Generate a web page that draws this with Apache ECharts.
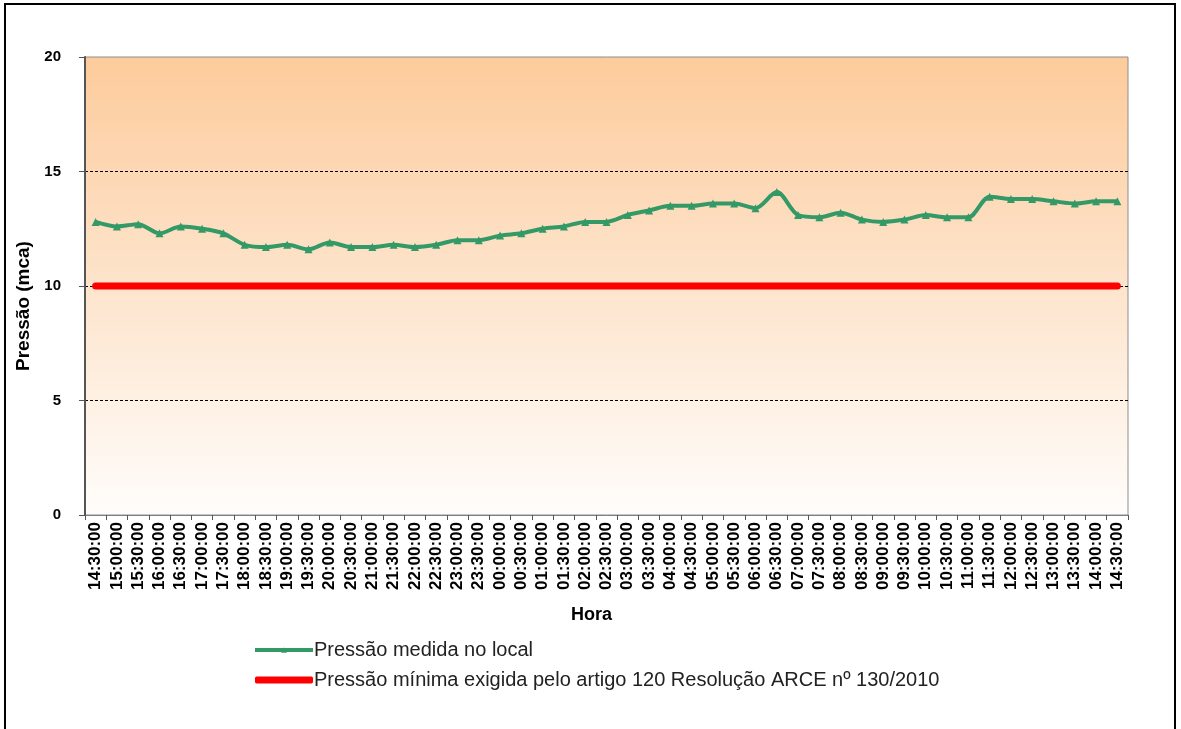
<!DOCTYPE html>
<html>
<head>
<meta charset="utf-8">
<script src="https://cdn.jsdelivr.net/npm/echarts@6/dist/echarts.min.js"></script>
<style>
  html, body { margin: 0; padding: 0; background: #fff; }
  #chart { width: 1181px; height: 729px; }
</style>
</head>
<body>
<div id="chart"></div>
<script>
const horas = [
  '14:30:00', '15:00:00', '15:30:00', '16:00:00', '16:30:00', '17:00:00', '17:30:00',
  '18:00:00', '18:30:00', '19:00:00', '19:30:00', '20:00:00', '20:30:00', '21:00:00',
  '21:30:00', '22:00:00', '22:30:00', '23:00:00', '23:30:00', '00:00:00', '00:30:00',
  '01:00:00', '01:30:00', '02:00:00', '02:30:00', '03:00:00', '03:30:00', '04:00:00',
  '04:30:00', '05:00:00', '05:30:00', '06:00:00', '06:30:00', '07:00:00', '07:30:00',
  '08:00:00', '08:30:00', '09:00:00', '09:30:00', '10:00:00', '10:30:00', '11:00:00',
  '11:30:00', '12:00:00', '12:30:00', '13:00:00', '13:30:00', '14:00:00', '14:30:00'
];

// pressure read at each half hour (mca)
const pressaoMedida = [
  12.8, 12.6, 12.7, 12.3, 12.6, 12.5, 12.3,
  11.8, 11.7, 11.8, 11.6, 11.9, 11.7, 11.7,
  11.8, 11.7, 11.8, 12.0, 12.0, 12.2, 12.3,
  12.5, 12.6, 12.8, 12.8, 13.1, 13.3, 13.5,
  13.5, 13.6, 13.6, 13.4, 14.1, 13.1, 13.0,
  13.2, 12.9, 12.8, 12.9, 13.1, 13.0, 13.0,
  13.9, 13.8, 13.8, 13.7, 13.6, 13.7, 13.7
];

// minimum pressure required (ARCE resolution)
const pressaoMinima = horas.map(() => 10);

const yTicks = { min: 0, max: 20, interval: 5 };

const nomeMedida = 'Pressão medida no local';
const nomeMinima = 'Pressão mínima exigida pelo artigo 120 Resolução ARCE nº 130/2010';

const chart = echarts.init(document.getElementById('chart'));

chart.setOption({
  animation: false,
  textStyle: { fontFamily: 'Arial, "Liberation Sans", sans-serif' },
  graphic: [{
    type: 'rect',
    shape: { x: 5, y: 4, width: 1170, height: 780 },
    style: { fill: 'none', stroke: '#000', lineWidth: 2 },
    silent: true
  }],
  grid: {
    left: 85, right: 53, top: 57, bottom: 214,
    show: true,
    borderColor: '#8c8c8c',
    borderWidth: 1,
    backgroundColor: new echarts.graphic.LinearGradient(0, 0, 0, 1, [
      { offset: 0, color: '#fdcb9b' },
      { offset: 0.5, color: '#fde4cc' },
      { offset: 1, color: '#fffdfb' }
    ])
  },
  legend: {
    orient: 'vertical',
    left: 248,
    top: 635,
    itemWidth: 58,
    itemHeight: 7,
    itemGap: 10,
    textStyle: { fontSize: 20, color: '#222', padding: [0, 0, 0, -4] },
    data: [
      { name: nomeMedida, lineStyle: { width: 4 } },
      { name: nomeMinima, icon: 'roundRect' }
    ]
  },
  xAxis: {
    type: 'category',
    data: horas,
    boundaryGap: true,
    name: 'Hora',
    nameLocation: 'middle',
    nameGap: 91,
    nameTextStyle: { fontSize: 18, fontWeight: 'bold', color: '#000', padding: [0, 30, 0, 0] },
    axisLine: { lineStyle: { color: '#7f7f7f', width: 1 } },
    axisTick: { show: true, length: 5, lineStyle: { color: '#555' } },
    axisLabel: {
      rotate: 90,
      interval: 0,
      fontSize: 17,
      fontWeight: 'bold',
      color: '#000',
      margin: 7
    }
  },
  yAxis: {
    type: 'value',
    min: yTicks.min,
    max: yTicks.max,
    interval: yTicks.interval,
    name: 'Pressão (mca)',
    nameLocation: 'middle',
    nameGap: 48,
    nameTextStyle: { fontSize: 19, fontWeight: 'bold', color: '#000', padding: [0, 0, 0, -40] },
    axisLine: { show: true, lineStyle: { color: '#555', width: 2 } },
    axisTick: { show: true, length: 6, lineStyle: { color: '#555' } },
    axisLabel: { fontSize: 15, fontWeight: 'bold', color: '#000', margin: 24 },
    splitLine: {
      show: true,
      showMinLine: false,
      showMaxLine: false,
      lineStyle: { color: '#000', type: [3, 2], width: 1 }
    }
  },
  series: [
    {
      name: nomeMedida,
      type: 'line',
      data: pressaoMedida,
      smooth: 0.3,
      symbol: 'triangle',
      symbolSize: 8,
      z: 3,
      itemStyle: { color: '#339966' },
      lineStyle: { color: '#339966', width: 4 }
    },
    {
      name: nomeMinima,
      type: 'line',
      data: pressaoMinima,
      symbol: 'none',
      z: 2,
      itemStyle: { color: '#ff0000' },
      lineStyle: { color: '#ff0000', width: 7, cap: 'round' }
    }
  ]
});
</script>
</body>
</html>
